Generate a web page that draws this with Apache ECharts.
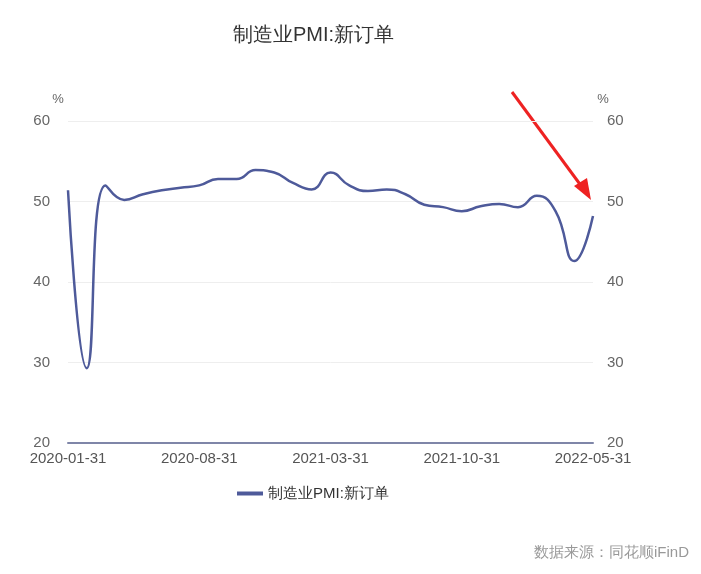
<!DOCTYPE html>
<html><head><meta charset="utf-8">
<script src="https://cdn.jsdelivr.net/npm/echarts@6/dist/echarts.min.js"></script>
<style>html,body{margin:0;padding:0;background:#fff}#c{width:701px;height:574px}</style>
</head><body><div id="c"></div>
<script>
const categories = ["2020-01-31","2020-02-29","2020-03-31","2020-04-30","2020-05-31","2020-06-30","2020-07-31","2020-08-31","2020-09-30","2020-10-31","2020-11-30","2020-12-31","2021-01-31","2021-02-28","2021-03-31","2021-04-30","2021-05-31","2021-06-30","2021-07-31","2021-08-31","2021-09-30","2021-10-31","2021-11-30","2021-12-31","2022-01-31","2022-02-28","2022-03-31","2022-04-30","2022-05-31"];
const newOrders = [51.4,29.3,52.0,50.2,50.9,51.4,51.7,52.0,52.8,52.8,53.9,53.6,52.3,51.5,53.6,52.0,51.3,51.5,50.9,49.6,49.3,48.8,49.4,49.7,49.3,50.7,48.8,42.6,48.2];
const seriesName = "制造业PMI:新订单";
const chart = echarts.init(document.getElementById('c'));
const yAx = (pos)=>({type:'value',position:pos,min:20,max:60,interval:10,name:'%',
  nameTextStyle:{color:'#666',fontSize:13,padding:pos==='left'?[0,0,0,-20]:[0,-20,0,0]},
  axisLine:{show:false},axisTick:{show:false},
  axisLabel:{color:'#666',fontSize:15,margin:pos==='left'?18:14},
  splitLine:{show:pos==='left',lineStyle:{color:'#eee'}}});
chart.setOption({
  animation:false,
  title:{text:'制造业PMI:新订单',left:228,top:20,textStyle:{fontSize:20,fontWeight:'normal',color:'#333'}},
  grid:{left:68,right:108,top:121,bottom:131},
  legend:{bottom:68,left:232,itemWidth:26,itemHeight:4,textStyle:{fontSize:15,color:'#333'},data:[{name:seriesName,icon:'rect'}]},
  xAxis:{type:'category',data:categories,boundaryGap:false,
    axisLine:{lineStyle:{color:'#7f86a8',width:2}},axisTick:{show:false},
    axisLabel:{color:'#555',fontSize:15,interval:6,showMaxLabel:true}},
  yAxis:[yAx('left'),yAx('right')],
  series:[{name:seriesName,type:'line',data:newOrders,smooth:true,showSymbol:false,
    lineStyle:{color:'#4e5a9a',width:2.5},itemStyle:{color:'#4e5a9a'}}],
  graphic:[
    {type:'line',shape:{x1:512,y1:92,x2:582,y2:187},style:{stroke:'#ee2222',lineWidth:3}},
    {type:'polygon',shape:{points:[[591,200],[574,186],[587,178]]},style:{fill:'#ee2222'}},
    {type:'text',right:12,bottom:14,style:{text:'数据来源：同花顺iFinD',fill:'#999',fontSize:15}}
  ]
});
</script></body></html>
